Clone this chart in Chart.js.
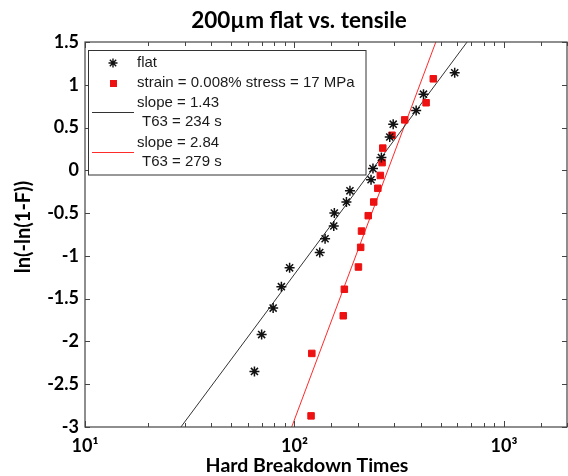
<!DOCTYPE html>
<html>
<head>
<meta charset="utf-8">
<title>200um flat vs. tensile</title>
<script src="https://cdn.jsdelivr.net/npm/chart.js@4.4.0/dist/chart.umd.min.js"></script>
<style>
    html, body { margin: 0; padding: 0; overflow: hidden; background: #fff; }
    canvas { display: block; }
</style>
</head>
<body>
<canvas id="weibullChart" width="575" height="476"></canvas>
<script>
// values
var flatTimes = [64.4, 69.7, 79.1, 86.6, 94.8, 132, 140, 154, 155, 177, 184, 232, 237, 260, 285, 296, 381, 413, 582];
var flatY = [-2.35, -1.92, -1.61, -1.36, -1.14, -0.96, -0.80, -0.65, -0.50, -0.37, -0.24, -0.11, 0.02, 0.15, 0.39, 0.54, 0.70, 0.89, 1.14];

var tensileTimes = [120, 121, 171, 173, 202, 207, 209, 225, 239, 250, 257, 262, 264, 292, 336, 425, 460];
var tensileY = [-2.87, -2.14, -1.70, -1.39, -1.13, -0.90, -0.71, -0.53, -0.37, -0.21, -0.06, 0.09, 0.26, 0.41, 0.59, 0.79, 1.07];

// fitted Weibull lines (end points where they leave the plot)
var flatFitTimes = [28.7, 667];
var flatFitY = [-3, 1.5];
var tensileFitTimes = [97.0, 473];
var tensileFitY = [-3, 1.5];

var legendLabels = ["flat", "strain = 0.008% stress = 17 MPa", "slope = 1.43", "T63 = 234 s", "slope = 2.84", "T63 = 279 s"];
var chartTitle = "200\u00b5m flat vs. tensile";
var xTitle = "Hard Breakdown Times";
var yTitle = "ln(-ln(1-F))";

var sup = { 1: "\u00b9", 2: "\u00b2", 3: "\u00b3" };

function toPoints(xs, ys) {
    var pts = [];
    for (var i = 0; i < xs.length; i++) {
        pts.push({ x: xs[i], y: ys[i] });
    }
    return pts;
}

function isDecade(v) {
    var e = Math.log10(v);
    return Math.abs(e - Math.round(e)) < 1e-9;
}

function drawStar(c, x, y, r) {
    var d = r * Math.SQRT1_2;
    c.beginPath();
    c.moveTo(x - r, y); c.lineTo(x + r, y);
    c.moveTo(x, y - r); c.lineTo(x, y + r);
    c.moveTo(x - d, y - d); c.lineTo(x + d, y + d);
    c.moveTo(x - d, y + d); c.lineTo(x + d, y - d);
    c.stroke();
}

var framePlugin = {
    id: 'frame',
    afterDraw: function(chart) {
        var c = chart.ctx;
        var a = chart.chartArea;
        var xs = chart.scales.x;
        var ys = chart.scales.y;
        c.save();

        // box round the plot
        c.strokeStyle = '#444';
        c.lineWidth = 1.2;
        c.strokeRect(a.left, a.top, a.right - a.left, a.bottom - a.top);

        // inward ticks
        c.lineWidth = 1;
        xs.ticks.forEach(function(t) {
            var px = Math.round(xs.getPixelForValue(t.value)) + 0.5;
            var len = isDecade(t.value) ? 6 : 4;
            c.beginPath();
            c.moveTo(px, a.bottom); c.lineTo(px, a.bottom - len);
            c.moveTo(px, a.top); c.lineTo(px, a.top + len);
            c.stroke();
        });
        ys.ticks.forEach(function(t) {
            var py = Math.round(ys.getPixelForValue(t.value)) + 0.5;
            c.beginPath();
            c.moveTo(a.left, py); c.lineTo(a.left + 5, py);
            c.moveTo(a.right, py); c.lineTo(a.right - 5, py);
            c.stroke();
        });

        // titles
        c.fillStyle = '#000';
        c.textAlign = 'center';
        c.textBaseline = 'middle';
        c.font = 'bold 22.5px Lato';
        c.fillText(chartTitle, 299, 21);
        c.font = 'bold 19.5px Lato';
        c.fillText(xTitle, 307, 466);
        c.save();
        c.translate(24, 227);
        c.rotate(-Math.PI / 2);
        c.font = 'bold 20px Lato';
        c.fillText(yTitle, 0, 0);
        c.restore();

        // legend box
        c.fillStyle = '#fff';
        c.fillRect(88.5, 50.5, 277.5, 124.5);
        c.strokeStyle = '#333';
        c.lineWidth = 1;
        c.strokeRect(88.5, 50.5, 277.5, 124.5);

        c.strokeStyle = '#111';
        c.lineWidth = 1.4;
        drawStar(c, 113, 63, 4.5);
        c.fillStyle = '#ee1111';
        c.fillRect(110, 80, 7, 7);

        c.lineWidth = 1;
        c.strokeStyle = '#333';
        c.beginPath(); c.moveTo(92, 112.5); c.lineTo(134, 112.5); c.stroke();
        c.strokeStyle = '#ff2a2a';
        c.beginPath(); c.moveTo(92, 152.5); c.lineTo(134, 152.5); c.stroke();

        c.fillStyle = '#1a1a1a';
        c.textAlign = 'left';
        c.font = '15px "Liberation Sans"';
        c.fillText(legendLabels[0], 137, 63);
        c.fillText(legendLabels[1], 137, 83);
        c.fillText(legendLabels[2], 137, 103);
        c.fillText(legendLabels[3], 142, 122);
        c.fillText(legendLabels[4], 137, 143);
        c.fillText(legendLabels[5], 142, 162);

        c.restore();
    }
};

var ctx = document.getElementById('weibullChart').getContext('2d');

var myChart = new Chart(ctx, {
    type: 'scatter',
    data: {
        datasets: [{
            label: legendLabels[0],
            data: toPoints(flatTimes, flatY),
            pointStyle: 'star',
            pointRadius: 5,
            borderColor: '#111',
            backgroundColor: '#111',
            borderWidth: 1.5
        }, {
            label: legendLabels[1],
            data: toPoints(tensileTimes, tensileY),
            pointStyle: 'rect',
            pointRadius: 4.6,
            borderColor: '#ee1111',
            backgroundColor: '#ee1111',
            borderWidth: 1
        }, {
            label: 'flat fit',
            data: toPoints(flatFitTimes, flatFitY),
            showLine: true,
            borderColor: '#333',
            borderWidth: 1,
            pointRadius: 0,
            fill: false
        }, {
            label: 'tensile fit',
            data: toPoints(tensileFitTimes, tensileFitY),
            showLine: true,
            borderColor: '#ff2a2a',
            borderWidth: 1,
            pointRadius: 0,
            fill: false
        }]
    },
    options: {
        responsive: false,
        animation: false,
        events: [],
        layout: { padding: { left: 0, top: 42, right: 3, bottom: 0 } },
        plugins: {
            legend: { display: false },
            title: { display: false },
            tooltip: { enabled: false }
        },
        scales: {
            x: {
                type: 'logarithmic',
                min: 10,
                max: 2000,
                grid: { display: false, drawTicks: false },
                border: { display: false },
                afterFit: function(s) { s.height = 49; },
                ticks: {
                    autoSkip: false,
                    maxRotation: 0,
                    padding: 8,
                    color: '#000',
                    font: { family: 'Lato', size: 18, weight: 'bold' },
                    callback: function(v) {
                        if (isDecade(v)) return '10' + sup[Math.round(Math.log10(v))];
                        return '';
                    }
                }
            },
            y: {
                min: -3,
                max: 1.5,
                grid: { display: false, drawTicks: false },
                border: { display: false },
                afterFit: function(s) { s.width = 85; },
                ticks: {
                    stepSize: 0.5,
                    padding: 6,
                    color: '#000',
                    font: { family: 'Lato', size: 18, weight: 'bold' },
                    callback: function(v) { return String(Math.round(v * 10) / 10); }
                }
            }
        }
    },
    plugins: [framePlugin]
});
</script>
</body>
</html>
